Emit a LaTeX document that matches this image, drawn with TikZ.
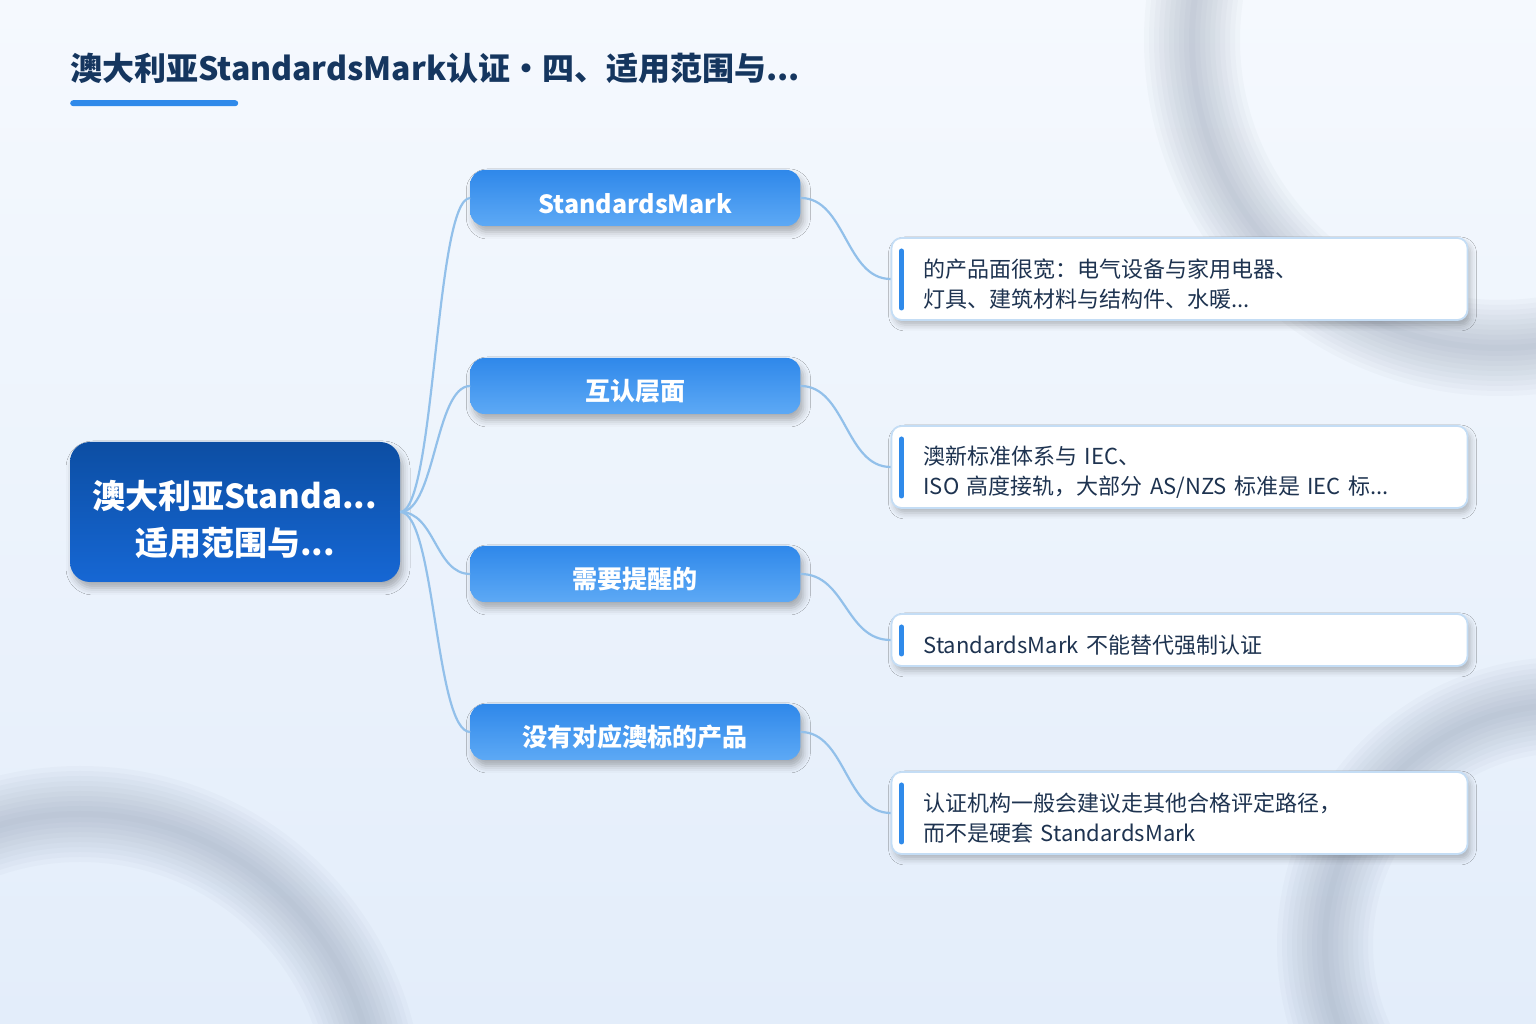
\documentclass[tikz,border=0pt]{standalone}
\usepackage{fontspec}
\setmainfont{Noto Sans CJK SC}
\usetikzlibrary{positioning,shadows.blur}

\definecolor{bgtop}{HTML}{F5F9FE}
\definecolor{bgbot}{HTML}{E3EDFA}
\definecolor{ringc}{HTML}{7C8AA0}
\definecolor{titlec}{HTML}{15365F}
\definecolor{barc}{HTML}{2F8AEA}
\definecolor{roottop}{HTML}{0C4EA3}
\definecolor{rootbot}{HTML}{1667D4}
\definecolor{brtop}{HTML}{2F88EA}
\definecolor{brbot}{HTML}{5DA9F5}
\definecolor{linkc}{HTML}{92C0EA}
\definecolor{leafborder}{HTML}{C4DDF5}
\definecolor{leaftext}{HTML}{1E3350}

\begin{document}
\begin{tikzpicture}[x=1pt,y=1pt]
	\tikzset{root/.style={rounded corners=20pt, minimum width=330pt, minimum height=140pt, text width=330pt, inner xsep=0pt, text height=43pt, top color=roottop, bottom color=rootbot, draw=none, text=white, align=center, font=\bfseries\fontsize{33}{47}\selectfont, blur shadow={shadow xshift=3pt, shadow yshift=-6pt, shadow blur radius=7pt, shadow opacity=30}},
		branch/.style={rounded corners=14pt, minimum width=330pt, minimum height=56pt, text height=32pt, top color=brtop, bottom color=brbot, draw=none, text=white, font=\bfseries\fontsize{25}{28}\selectfont, blur shadow={shadow xshift=3pt, shadow yshift=-6pt, shadow blur radius=7pt, shadow opacity=30}},
		leaf/.style={draw=leafborder, line width=1.8pt, fill=white, rounded corners=10pt, text width=512pt, inner xsep=32pt, inner ysep=6pt, minimum height=82pt, text height=29pt, align=left, text=leaftext, font=\fontsize{22}{30}\selectfont, blur shadow={shadow xshift=3pt, shadow yshift=-5pt, shadow blur radius=6pt, shadow opacity=25},
			path picture={\draw[barc, line width=5pt, line cap=round] ([xshift=10pt,yshift=-13pt]path picture bounding box.north west) -- ([xshift=10pt,yshift=12pt]path picture bounding box.south west);}},
		link/.style={draw=linkc, line width=2.2pt},
	}
	\useasboundingbox (0,0) rectangle (1536,1024);
	% background
	\shade[top color=bgtop, bottom color=bgbot] (0,0) rectangle (1536,1024);
	\begin{scope}
		\clip (0,0) rectangle (1536,1024);
		\foreach \w in {96,86,...,6}
		\draw[ringc, line width=\w pt, opacity=0.045] (1500,984) circle (308) (80,-86) circle (296) (1565,79) circle (240);
	\end{scope}

	\node[anchor=base west, inner sep=0, text=titlec, font=\bfseries\fontsize{32}{36}\selectfont] (title) at (70,943) {澳大利亚StandardsMark认证・四、适用范围与...};
	\node[anchor=north west, fill=barc, rounded corners=3pt, minimum width=168pt, minimum height=6pt, inner sep=0] (tbar) at (70,924) {};

	\node[root] (root) at (235,512) {澳大利亚Standa...\\适用范围与...};
	\node[branch, right=70pt of root, yshift=314pt] (std) {StandardsMark};
	\node[branch, right=70pt of root, yshift=126pt] (mutual) {互认层面};
	\node[branch, right=70pt of root, yshift=-62pt] (remind) {需要提醒的};
	\node[branch, right=70pt of root, yshift=-220pt] (noaus) {没有对应澳标的产品};

	\node[leaf, right=90pt of std, yshift=-81pt] (stdnote) {的产品面很宽：电气设备与家用电器、\\灯具、建筑材料与结构件、水暖...};
	\node[leaf, right=90pt of mutual, yshift=-81pt] (mutualnote) {澳新标准体系与 IEC、\\ISO 高度接轨，大部分 AS/NZS 标准是 IEC 标...};
	\node[leaf, right=90pt of remind, yshift=-66pt, minimum height=52pt] (remindnote) {StandardsMark 不能替代强制认证};
	\node[leaf, right=90pt of noaus, yshift=-81pt] (noausnote) {认证机构一般会建议走其他合格评定路径，\\而不是硬套 StandardsMark};

	\foreach \b in {std,mutual,remind,noaus}
	\path[link] (root.east) .. controls +(35,0) and +(-35,0) .. (\b.west);
	\foreach \b/\n in {std/stdnote,mutual/mutualnote,remind/remindnote,noaus/noausnote}
	\path[link] (\b.east) .. controls +(45,0) and +(-45,0) .. (\n.west);
\end{tikzpicture}
\end{document}
